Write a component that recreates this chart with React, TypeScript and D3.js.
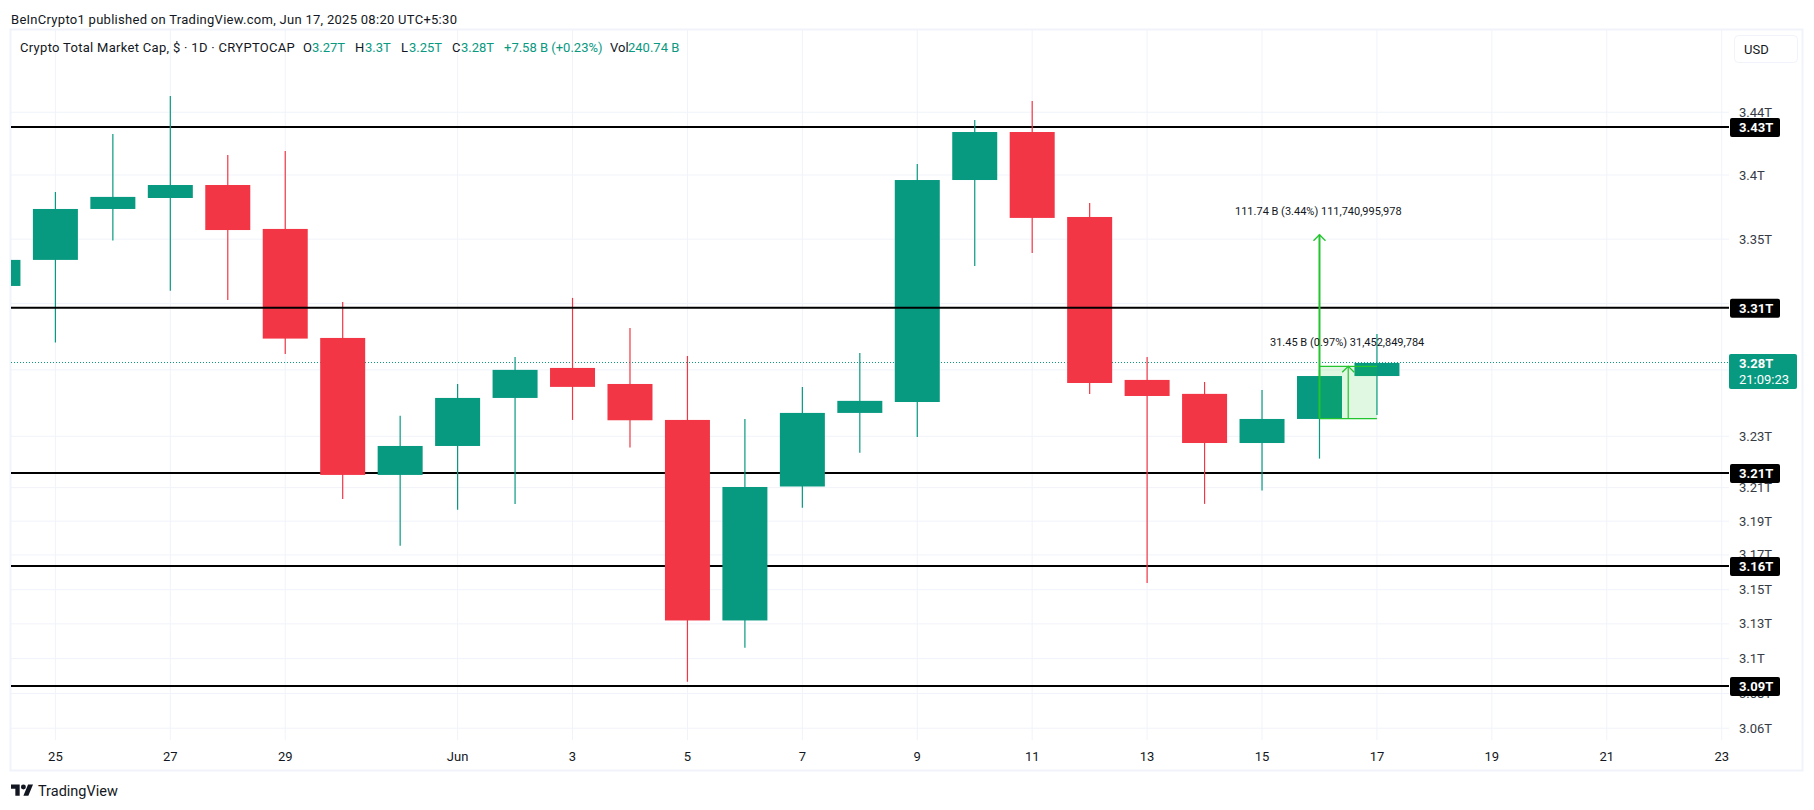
import { useEffect, useRef } from 'react';
import * as d3 from 'd3';

const GREEN = '#089981';
const RED = '#f23645';
const TOOL = '#22c52e';
const GRID = '#f0f3fa';

// one candle per day, prices in trillions
const firstDay = '2025-05-24';
const opens = [3.3282, 3.3446, 3.3769, 3.3839, 3.3922, 3.3642, 3.2957, 3.2116, 3.2292, 3.2586, 3.2771, 3.2672, 3.2451, 3.1246, 3.2046, 3.2494, 3.2561, 3.3954, 3.4263, 3.3718, 3.2697, 3.2611, 3.231, 3.2457, 3.2721];
const highs = [3.3446, 3.3877, 3.425, 3.4497, 3.4115, 3.4141, 3.3182, 3.2476, 3.2672, 3.2839, 3.3207, 3.3019, 3.2845, 3.2457, 3.2654, 3.2864, 3.4057, 3.4341, 3.4464, 3.3807, 3.2839, 3.2684, 3.2635, 3.2759, 3.2982];
const lows = [3.3282, 3.2928, 3.3568, 3.3252, 3.3194, 3.2858, 3.1971, 3.1689, 3.1905, 3.1941, 3.2451, 3.2282, 3.0886, 3.1085, 3.1917, 3.225, 3.2347, 3.3408, 3.349, 3.2611, 3.1468, 3.1941, 3.2022, 3.2215, 3.2482];
const closes = [3.3446, 3.3769, 3.3846, 3.3922, 3.3635, 3.2953, 3.2116, 3.2292, 3.2586, 3.2759, 3.2654, 3.2449, 3.1246, 3.2043, 3.2494, 3.2568, 3.3954, 3.4263, 3.3712, 3.2678, 3.2598, 3.231, 3.2457, 3.2721, 3.2802];

const dayTicks = ['2025-05-25', '2025-05-27', '2025-05-29', '2025-06-01', '2025-06-03', '2025-06-05', '2025-06-07', '2025-06-09', '2025-06-11', '2025-06-13', '2025-06-15', '2025-06-17', '2025-06-19', '2025-06-21', '2025-06-23'];
const dayLabels = ['25', '27', '29', 'Jun', '3', '5', '7', '9', '11', '13', '15', '17', '19', '21', '23'];

const priceTicks = [3.4391, 3.3986, 3.3577, 3.3172, 3.2759, 3.2351, 3.2039, 3.1837, 3.1635, 3.1428, 3.1226, 3.1022, 3.0818, 3.0617];
// two of the gridlines have their labels covered by the tags on the axis
const priceLabels = ['3.44T', '3.4T', '3.35T', '', '', '3.23T', '3.21T', '3.19T', '3.17T', '3.15T', '3.13T', '3.1T', '3.08T', '3.06T'];

const levels = [3.4295, 3.3146, 3.2128, 3.1569, 3.0862];
const levelLabels = ['3.43T', '3.31T', '3.21T', '3.16T', '3.09T'];
const lastPrice = 3.2802;

const legendParts: [number, string, string][] = [
  [20, 'Crypto Total Market Cap, $ · 1D · CRYPTOCAP', '#131722'],
  [303, 'O', '#131722'],
  [312, '3.27T', GREEN],
  [355, 'H', '#131722'],
  [365, '3.3T', GREEN],
  [401, 'L', '#131722'],
  [409, '3.25T', GREEN],
  [452, 'C', '#131722'],
  [461, '3.28T', GREEN],
  [504, '+7.58 B (+0.23%)', GREEN],
  [610, 'Vol', '#131722'],
  [628, '240.74 B', GREEN],
];

const toDate = (s: string) => new Date(s + 'T00:00:00Z');

export default function App() {
  const svgRef = useRef<SVGSVGElement>(null);

  useEffect(() => {
    if (!svgRef.current) return;
    const svg = d3.select(svgRef.current);
    svg.selectAll('*').remove();

    const width = 1814;
    const height = 810;
    const left = 11;
    const right = 1729;
    const top = 30;
    const bottom = 740;

    const x = d3.scaleUtc().domain([toDate('2025-05-25'), toDate('2025-06-23')]).range([55.4, 1721.7]);
    const y = d3.scaleLog().domain([3.0549, 3.4929]).range([bottom, top]);

    const font = 'Roboto, "Liberation Sans", sans-serif';
    svg.attr('width', width).attr('height', height).style('font-family', font);

    svg.append('rect').attr('width', width).attr('height', height).attr('fill', '#fff');

    // Outer frame of the chart
    svg.append('rect')
      .attr('x', 10.5).attr('y', 29.5).attr('width', 1792).attr('height', 741)
      .attr('fill', 'none').attr('stroke', GRID).attr('stroke-width', 2);

    svg.append('text').attr('x', 11).attr('y', 24)
      .attr('font-size', 13).attr('letter-spacing', 0.28).attr('fill', '#131722')
      .text('BeInCrypto1 published on TradingView.com, Jun 17, 2025 08:20 UTC+5:30');

    svg.append('defs').append('clipPath').attr('id', 'pane')
      .append('rect').attr('x', left).attr('y', top).attr('width', right - left).attr('height', bottom - top);

    // Grid
    svg.append('g').selectAll('line').data(dayTicks).enter().append('line')
      .attr('x1', (d) => x(toDate(d))).attr('x2', (d) => x(toDate(d)))
      .attr('y1', top).attr('y2', bottom)
      .attr('stroke', GRID).attr('stroke-width', 1);

    svg.append('g').selectAll('line').data(priceTicks).enter().append('line')
      .attr('x1', left).attr('x2', right)
      .attr('y1', (d) => y(d)).attr('y2', (d) => y(d))
      .attr('stroke', GRID).attr('stroke-width', 1);

    const drawLevels = (values: number[]) => {
      svg.append('g').selectAll('line').data(values).enter().append('line')
        .attr('x1', left).attr('x2', right)
        .attr('y1', (d) => y(d)).attr('y2', (d) => y(d))
        .attr('stroke', '#000').attr('stroke-width', 2);
    };

    // 3.31T sits above the candles, the others behind them
    drawLevels(levels.filter((_, i) => i !== 1));

    const lastY = Math.floor(y(lastPrice)) + 0.5;
    svg.append('line')
      .attr('x1', left).attr('x2', right)
      .attr('y1', lastY).attr('y2', lastY)
      .attr('stroke', GREEN).attr('stroke-width', 1).attr('stroke-dasharray', '1 2');

    // Candles
    const candles = svg.append('g').attr('clip-path', 'url(#pane)');
    const bodyWidth = 45;
    opens.forEach((open, i) => {
      const close = closes[i];
      const cx = x(d3.utcDay.offset(toDate(firstDay), i));
      const color = close >= open ? GREEN : RED;
      candles.append('line')
        .attr('x1', cx).attr('x2', cx)
        .attr('y1', y(highs[i])).attr('y2', y(lows[i]))
        .attr('stroke', color).attr('stroke-width', 1.2);
      candles.append('rect')
        .attr('x', cx - bodyWidth / 2).attr('width', bodyWidth)
        .attr('y', y(Math.max(open, close)))
        .attr('height', Math.abs(y(open) - y(close)))
        .attr('fill', color);
    });

    drawLevels([levels[1]]);

    // Measure tools on Jun 16 -> Jun 17
    const toolX0 = x(toDate('2025-06-16'));
    const toolX1 = x(toDate('2025-06-17'));
    const toolBase = 3.2459;
    const toolTop = 3.2781;
    const longTop = 3.3605;
    const toolMid = (toolX0 + toolX1) / 2;

    svg.append('rect')
      .attr('x', toolX0).attr('width', toolX1 - toolX0)
      .attr('y', y(toolTop)).attr('height', y(toolBase) - y(toolTop))
      .attr('fill', TOOL).attr('fill-opacity', 0.14);
    [toolTop, toolBase].forEach((p) => {
      svg.append('line')
        .attr('x1', toolX0).attr('x2', toolX1)
        .attr('y1', y(p)).attr('y2', y(p))
        .attr('stroke', TOOL).attr('stroke-width', 1.2);
    });

    const arrow = (ax: number, tip: number, w: number) => {
      svg.append('line')
        .attr('x1', ax).attr('x2', ax)
        .attr('y1', y(toolBase)).attr('y2', y(tip))
        .attr('stroke', TOOL).attr('stroke-width', w);
      svg.append('path')
        .attr('d', `M${ax - 6},${y(tip) + 6} L${ax},${y(tip)} L${ax + 6},${y(tip) + 6}`)
        .attr('fill', 'none').attr('stroke', TOOL).attr('stroke-width', 1.3);
    };
    arrow(toolX0, longTop, 2);
    arrow(toolMid, toolTop, 1.2);

    svg.append('text').attr('x', 1235).attr('y', 215)
      .attr('font-size', 11).attr('fill', '#131722')
      .text('111.74 B (3.44%) 111,740,995,978');
    svg.append('text').attr('x', 1270).attr('y', 346)
      .attr('font-size', 11).attr('fill', '#131722')
      .text('31.45 B (0.97%) 31,452,849,784');

    // Legend
    svg.append('g').selectAll('text').data(legendParts).enter().append('text')
      .attr('x', (d) => d[0]).attr('y', 52)
      .attr('font-size', 13).attr('fill', (d) => d[2])
      .attr('letter-spacing', (_, i) => (i === 0 ? 0.3 : 0))
      .text((d) => d[1]);

    // Price axis
    svg.append('g').selectAll('text').data(priceTicks).enter().append('text')
      .attr('x', 1739).attr('y', (d) => y(d) + 4.5)
      .attr('font-size', 13).attr('fill', '#363a45')
      .text((_, i) => priceLabels[i]);

    const levelTags = svg.append('g').selectAll('g').data(levels).enter().append('g')
      .attr('transform', (d) => `translate(1730,${y(d)})`);
    levelTags.append('rect')
      .attr('x', 0).attr('y', -9).attr('width', 50).attr('height', 19).attr('rx', 2)
      .attr('fill', '#000');
    levelTags.append('text')
      .attr('x', 9).attr('y', 5)
      .attr('font-size', 13).attr('font-weight', 700).attr('fill', '#fff')
      .text((_, i) => levelLabels[i]);

    svg.append('rect')
      .attr('x', 1729).attr('y', y(lastPrice) - 9).attr('width', 68).attr('height', 35).attr('rx', 2)
      .attr('fill', GREEN);
    svg.append('text').attr('x', 1739).attr('y', y(lastPrice) + 5)
      .attr('font-size', 13).attr('font-weight', 700).attr('fill', '#fff').text('3.28T');
    svg.append('text').attr('x', 1739).attr('y', y(lastPrice) + 21)
      .attr('font-size', 13).attr('fill', '#fff').text('21:09:23');

    svg.append('rect')
      .attr('x', 1734.5).attr('y', 35.5).attr('width', 63).attr('height', 27).attr('rx', 4)
      .attr('fill', '#fff').attr('stroke', GRID);
    svg.append('text').attr('x', 1744).attr('y', 54)
      .attr('font-size', 13).attr('fill', '#131722').text('USD');

    // Time axis
    svg.append('g').selectAll('text').data(dayTicks).enter().append('text')
      .attr('x', (d) => x(toDate(d))).attr('y', 761)
      .attr('text-anchor', 'middle').attr('font-size', 13).attr('fill', '#131722')
      .text((_, i) => dayLabels[i]);

    // Logo
    const logo = svg.append('g').attr('transform', 'translate(11,782) scale(0.62)').attr('fill', '#131722');
    logo.append('path').attr('d', 'M14 22H7V11H0V4h14v18zM28 22h-8l7.5-18h8L28 22z');
    logo.append('circle').attr('cx', 20).attr('cy', 8).attr('r', 4);
    svg.append('text').attr('x', 38).attr('y', 796)
      .attr('font-size', 14.5).attr('fill', '#131722').text('TradingView');
  }, []);

  return <svg ref={svgRef} style={{ position: 'absolute', left: 0, top: 0 }}></svg>;
}
